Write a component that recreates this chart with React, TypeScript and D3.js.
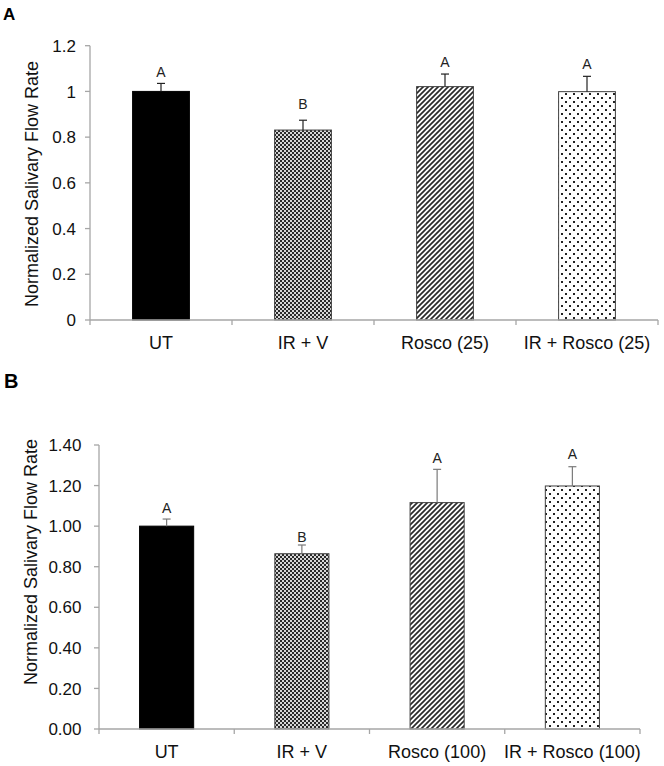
import React from "react";
import * as d3 from "d3";

const categoriesA = ["UT", "IR + V", "Rosco (25)", "IR + Rosco (25)"];
const valuesA = [1.0, 0.831, 1.021, 0.999];
const errorsA = [0.035, 0.043, 0.055, 0.067];
const lettersA = ["A", "B", "A", "A"];
const letterPosA = [1.063, 0.923, 1.107, 1.098];
const ticksA = [0, 0.2, 0.4, 0.6, 0.8, 1.0, 1.2];

const categoriesB = ["UT", "IR + V", "Rosco (100)", "IR + Rosco (100)"];
const valuesB = [1.0, 0.864, 1.116, 1.198];
const errorsB = [0.035, 0.043, 0.164, 0.095];
const lettersB = ["A", "B", "A", "A"];
const letterPosB = [1.066, 0.923, 1.31, 1.331];
const ticksB = [0, 0.2, 0.4, 0.6, 0.8, 1.0, 1.2, 1.4];

const fills = ["#000000", "url(#checker)", "url(#diag)", "url(#dots)"];
const FONT = "'Liberation Sans', Arial, Helvetica, sans-serif";

type PanelProps = {
  cats: string[];
  vals: number[];
  errs: number[];
  letters: string[];
  letterPos: number[];
  ticks: number[];
  yMax: number;
  x0: number;
  x1: number;
  yTop: number;
  yBot: number;
  tickFmt: (v: number) => string;
  tickGap: number;
  titleX: number;
  titleY: number;
  labelY: number;
  errColor: string;
};

function Panel(p: PanelProps) {
  const x = d3
    .scaleBand<string>()
    .domain(p.cats)
    .range([p.x0, p.x1])
    .paddingInner(0.6)
    .paddingOuter(0.3);
  const y = d3.scaleLinear().domain([0, p.yMax]).range([p.yBot, p.yTop]);
  const step = x.step();
  const bounds = d3.range(p.cats.length + 1).map((i) => p.x0 + i * step);
  const axisColor = "#a6a6a6";
  return (
    <g>
      {/* bars */}
      {p.cats.map((c, i) => (
        <rect
          key={c}
          x={x(c)}
          y={y(p.vals[i])}
          width={x.bandwidth()}
          height={y(0) - y(p.vals[i])}
          fill={fills[i]}
          stroke={i === 0 ? "#000" : "#404040"}
          strokeWidth={1}
        />
      ))}
      {/* error bars */}
      {p.cats.map((c, i) => {
        const cx = (x(c) as number) + x.bandwidth() / 2;
        const yt = y(p.vals[i] + p.errs[i]);
        return (
          <g key={"e" + c} stroke={p.errColor} strokeWidth={1.2}>
            <line x1={cx} x2={cx} y1={y(p.vals[i])} y2={yt} />
            <line x1={cx - 4} x2={cx + 4} y1={yt} y2={yt} />
          </g>
        );
      })}
      {/* letters */}
      {p.cats.map((c, i) => (
        <text
          key={"l" + c}
          x={(x(c) as number) + x.bandwidth() / 2}
          y={y(p.letterPos[i])}
          textAnchor="middle"
          fontSize={14}
          fill="#222"
          fontFamily={FONT}
        >
          {p.letters[i]}
        </text>
      ))}
      {/* y axis */}
      <line x1={p.x0} x2={p.x0} y1={y(p.yMax)} y2={y(0)} stroke={axisColor} strokeWidth={1.3} />
      {p.ticks.map((t) => (
        <g key={"t" + t}>
          <line x1={p.x0 - 5} x2={p.x0} y1={y(t)} y2={y(t)} stroke={axisColor} strokeWidth={1.3} />
          <text
            x={p.x0 - p.tickGap}
            y={y(t)}
            dy="0.36em"
            textAnchor="end"
            fontSize={17}
            fill="#111"
            fontFamily={FONT}
          >
            {p.tickFmt(t)}
          </text>
        </g>
      ))}
      {/* x axis */}
      <line x1={p.x0} x2={p.x1} y1={y(0)} y2={y(0)} stroke={axisColor} strokeWidth={1.3} />
      {bounds.map((b, i) => (
        <line key={"b" + i} x1={b} x2={b} y1={y(0)} y2={y(0) + 5} stroke={axisColor} strokeWidth={1.3} />
      ))}
      {p.cats.map((c) => (
        <text
          key={"x" + c}
          x={(x(c) as number) + x.bandwidth() / 2}
          y={p.labelY}
          textAnchor="middle"
          fontSize={18}
          fill="#111"
          fontFamily={FONT}
        >
          {c}
        </text>
      ))}
      <text
        transform={`translate(${p.titleX},${p.titleY}) rotate(-90)`}
        textAnchor="middle"
        fontSize={18}
        fill="#111"
        fontFamily={FONT}
      >
        Normalized Salivary Flow Rate
      </text>
    </g>
  );
}

export default function App() {
  return (
    <svg
      width={664}
      height={766}
      style={{ position: "absolute", left: 0, top: 0, background: "#fff" }}
    >
      <defs>
        <pattern id="checker" width={4} height={4} patternUnits="userSpaceOnUse">
          <rect width={4} height={4} fill="#d8d8d8" />
          <rect x={0} y={0} width={2} height={2} fill="#2a2a2a" />
          <rect x={2} y={2} width={2} height={2} fill="#2a2a2a" />
        </pattern>
        <pattern id="diag" width={5} height={5} patternUnits="userSpaceOnUse">
          <rect width={5} height={5} fill="#fff" />
          <path d="M-1,1 L1,-1 M0,5 L5,0 M4,6 L6,4" stroke="#2a2a2a" strokeWidth={1.7} />
        </pattern>
        <pattern id="dots" width={8} height={8} patternUnits="userSpaceOnUse">
          <rect width={8} height={8} fill="#fff" />
          <rect x={1} y={1} width={2} height={2} fill="#222" />
          <rect x={5} y={5} width={2} height={2} fill="#222" />
        </pattern>
      </defs>
      <rect width={664} height={766} fill="#fff" />
      <text x={3} y={20} fontSize={17} fontWeight="bold" fontFamily={FONT} fill="#000">
        A
      </text>
      <text x={4} y={388} fontSize={20} fontWeight="bold" fontFamily={FONT} fill="#000">
        B
      </text>
      <Panel
        cats={categoriesA}
        vals={valuesA}
        errs={errorsA}
        letters={lettersA}
        letterPos={letterPosA}
        ticks={ticksA}
        yMax={1.2}
        x0={90}
        x1={658}
        yTop={45.7}
        yBot={320}
        tickFmt={(v) => d3.format("~g")(v)}
        tickGap={14}
        titleX={38}
        titleY={184}
        labelY={349}
        errColor="#222"
      />
      <Panel
        cats={categoriesB}
        vals={valuesB}
        errs={errorsB}
        letters={lettersB}
        letterPos={letterPosB}
        ticks={ticksB}
        yMax={1.4}
        x0={99}
        x1={640}
        yTop={445}
        yBot={729}
        tickFmt={(v) => d3.format(".2f")(v)}
        tickGap={17.5}
        titleX={37}
        titleY={562}
        labelY={758}
        errColor="#7a7a7a"
      />
    </svg>
  );
}
